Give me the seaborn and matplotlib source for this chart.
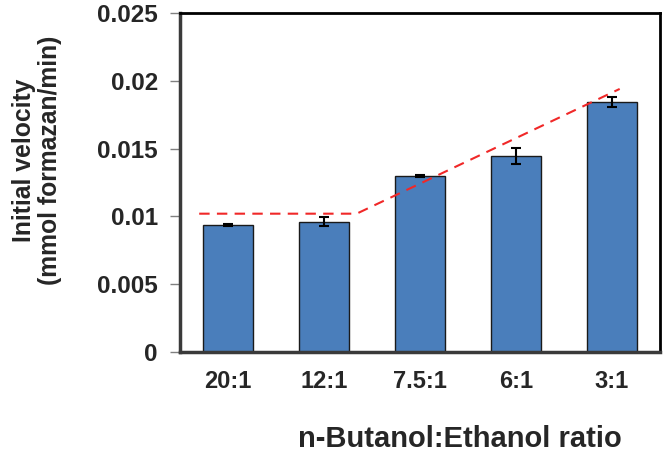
import matplotlib
matplotlib.use("Agg")
import matplotlib.pyplot as plt
import seaborn as sns
import pandas as pd

categories = ["20:1", "12:1", "7.5:1", "6:1", "3:1"]
velocity = [0.00938, 0.00962, 0.01300, 0.01445, 0.01845]
errors = [0.00008, 0.00030, 0.00007, 0.00060, 0.00038]
trend_x = [-0.30, 1.34, 4.08]
trend_y = [0.0102, 0.0102, 0.0194]

sns.set_theme(style="white")
plt.rcParams['font.family'] = ['Liberation Sans', 'DejaVu Sans']
plt.rcParams['font.weight'] = 'bold'

W, H = 666, 454
fig = plt.figure(figsize=(W / 100, H / 100), dpi=100)
ax = fig.add_axes([180 / W, 1 - 352 / H, 480 / W, 339 / H])

df = pd.DataFrame({"ratio": categories, "v": velocity})
sns.barplot(data=df, x="ratio", y="v", order=categories, color="#4A7EBB",
            saturation=1, width=0.52, edgecolor="#1a1a1a", linewidth=1.0,
            errorbar=None, ax=ax)
ax.errorbar(range(len(categories)), velocity, yerr=errors, fmt="none",
            ecolor="black", elinewidth=1.5, capsize=3.5, capthick=1.5, zorder=5)
ax.plot(trend_x, trend_y, color="#F02828", lw=1.5, dashes=(5, 3.5), zorder=6)

ax.set_xlim(-0.5, 4.5)
ax.set_ylim(0, 0.025)
ax.set_yticks([0, 0.005, 0.01, 0.015, 0.02, 0.025])
ax.set_yticklabels(["0", "0.005", "0.01", "0.015", "0.02", "0.025"])
ax.tick_params(axis="y", which="both", left=True, length=7, width=1, color="#808080",
               labelsize=17.5, pad=9)
ax.tick_params(axis="x", length=0, labelsize=17, pad=13)
for lab in ax.get_xticklabels() + ax.get_yticklabels():
    lab.set_fontweight("bold")

ax.set_xlabel("")
ax.set_ylabel("")
fig.text(460 / W, 1 - 447 / H, "n-Butanol:Ethanol ratio", fontsize=21,
         fontweight="bold", ha="center", va="baseline")
fig.text(37 / W, 1 - 160 / H, "Initial velocity\n(mmol formazan/min)", fontsize=17.8,
         fontweight="bold", ha="center", va="center", rotation=90,
         multialignment="center", linespacing=1.15)

for side in ["left", "bottom"]:
    ax.spines[side].set_linewidth(2.5)
    ax.spines[side].set_color("#3a3a3a")
for side in ["top", "right"]:
    ax.spines[side].set_linewidth(2.0)
    ax.spines[side].set_color("black")
    ax.spines[side].set_visible(True)

fig.savefig("out.png", dpi=100)
